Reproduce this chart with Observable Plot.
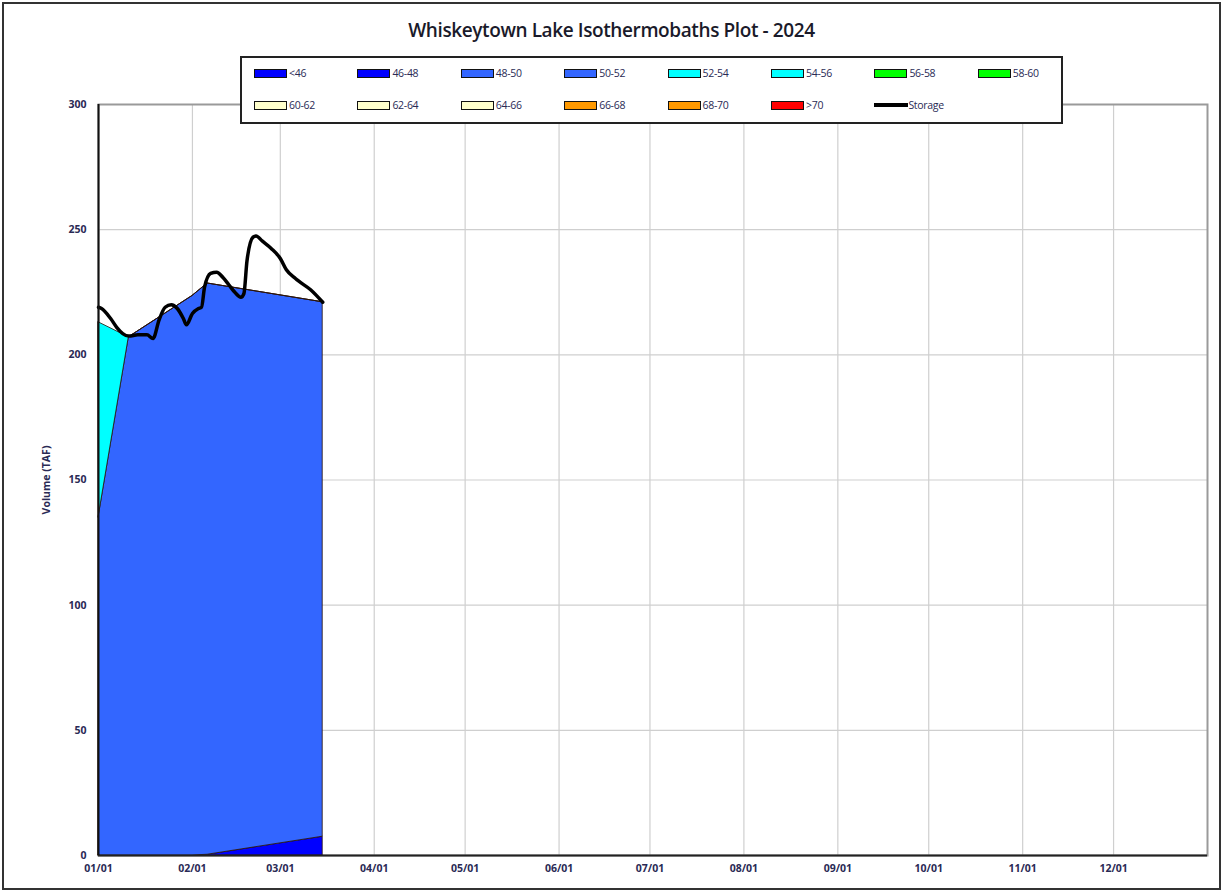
<!DOCTYPE html>
<html>
<head>
<meta charset="utf-8">
<script src="https://cdn.jsdelivr.net/npm/d3@7"></script>
<script src="https://cdn.jsdelivr.net/npm/@observablehq/plot@0.6"></script>
<style>
  html, body { margin: 0; padding: 0; background: #fff; }
  #wrap { position: relative; width: 1223px; height: 892px; overflow: hidden; font-family: "Open Sans", sans-serif; }
  #border { position: absolute; left: 2px; top: 2px; width: 1215px; height: 884px; border: 2px solid #333; pointer-events: none; }
  #title { position: absolute; left: 0; width: 1223px; top: 17px; text-align: center; font-size: 19px; font-weight: 600; color: #1a1a2a; letter-spacing: -0.4px; }
  #chart { position: absolute; left: 0; top: 0; }
  #legend { position: absolute; left: 240px; top: 56px; width: 819px; height: 64px; border: 2px solid #222; background: #fff; }
  .item { position: absolute; display: flex; align-items: center; font-size: 10.5px; color: #2a2a55; white-space: nowrap; letter-spacing: -0.3px; }
  .sw { width: 31px; height: 7px; border: 1.5px solid #111; margin-right: 2px; }
  .ln { width: 34px; height: 4px; background: #000; margin-right: 0px; }
</style>
</head>
<body>
<div id="wrap">
  <div id="chart"></div>
  <div id="title">Whiskeytown Lake Isothermobaths Plot - 2024</div>
  <div id="legend"></div>
  <div id="border"></div>
</div>
<script>
// Temperature bands (legend order) and their colours
const layerNames = ["<46","46-48","48-50","50-52","52-54","54-56","56-58","58-60","60-62","62-64","64-66","66-68","68-70",">70"];
const layerColors = ["#0000FF","#0000FF","#3366FF","#3366FF","#00FFFF","#00FFFF","#00FF00","#00FF00","#FFFFCC","#FFFFCC","#FFFFCC","#FF9900","#FF9900","#FF0000"];

// Volume (TAF) of each band at the sampled dates
const layerDates = ["2024-01-01","2024-01-11","2024-02-01","2024-02-06","2024-03-15"];
const band46_48 = [0, 0, 0, 0.3, 7.5];
const band48_50 = [135, 207, 223.5, 228.2, 213.5];
const band52_54 = [78, 0, 0, 0, 0];

// Storage line
const storageDates = ["2024-01-01","2024-01-02","2024-01-05","2024-01-07","2024-01-09","2024-01-11","2024-01-14","2024-01-17","2024-01-19","2024-01-21","2024-01-23","2024-01-25","2024-01-27","2024-01-29","2024-01-30","2024-02-01","2024-02-03","2024-02-04","2024-02-05","2024-02-07","2024-02-09","2024-02-11","2024-02-13","2024-02-15","2024-02-17","2024-02-18","2024-02-19","2024-02-21","2024-02-22","2024-02-24","2024-02-27","2024-03-01","2024-03-03","2024-03-06","2024-03-07","2024-03-11","2024-03-15"];
const storageValues = [219,218.5,214.5,211,208.5,207.5,208,208,206.5,214,219,220,218.5,214.5,212,216.5,218.5,219,227,232.5,233,231,228,225,223,224.5,237.5,247,247.5,245.5,242.5,238.5,234,230.5,229.5,226,221];

// Axis ticks
const yTicks = [0, 50, 100, 150, 200, 250, 300];
const monthTicks = ["2024-01-01","2024-02-01","2024-03-01","2024-04-01","2024-05-01","2024-06-01","2024-07-01","2024-08-01","2024-09-01","2024-10-01","2024-11-01","2024-12-01"];
const xDomain = ["2024-01-01","2025-01-01"];

const parse = d3.utcParse("%Y-%m-%d");
const bands = [["46-48", band46_48], ["48-50", band48_50], ["52-54", band52_54]];
const rows = [];
for (const [name, vals] of bands) {
  layerDates.forEach((d, i) => rows.push({date: parse(d), layer: name, value: vals[i]}));
}
const storage = storageDates.map((d, i) => ({date: parse(d), value: storageValues[i]}));
const monthDates = monthTicks.map(parse);

const chart = Plot.plot({
  width: 1223,
  height: 892,
  marginLeft: 98,
  marginRight: 16,
  marginTop: 104,
  marginBottom: 37,
  style: {fontFamily: "'Open Sans', sans-serif", fontSize: "10.5px", color: "#2a2a55", background: "transparent"},
  x: {type: "utc", domain: xDomain.map(parse)},
  y: {domain: [0, 300]},
  color: {domain: layerNames, range: layerColors},
  marks: [
    Plot.gridY(yTicks.filter(v => v > 0 && v < 300), {stroke: "#cfcfcf", strokeOpacity: 1, strokeWidth: 1.2}),
    Plot.gridX(monthDates.slice(1), {stroke: "#cfcfcf", strokeOpacity: 1, strokeWidth: 1.2}),
    Plot.frame({stroke: "#9a9a9a", strokeWidth: 2}),
    Plot.areaY(rows, {x: "date", y: "value", z: "layer", fill: "layer", order: layerNames, stroke: "#2a1208", strokeWidth: 0.8, fillOpacity: 1}),
    Plot.line(storage, {x: "date", y: "value", stroke: "#000", strokeWidth: 3.5, curve: "monotone-x"}),
    Plot.ruleY([0], {stroke: "#222", strokeWidth: 2}),
    Plot.ruleX([parse(xDomain[0])], {stroke: "#111", strokeWidth: 2}),
    Plot.axisY({ticks: yTicks, tickSize: 0, tickPadding: 12, label: "Volume (TAF)", labelAnchor: "center", labelArrow: "none", labelOffset: 56, fontWeight: "bold", fill: "#2a2a55"}),
    Plot.axisX({ticks: monthDates, tickSize: 0, tickPadding: 9, tickFormat: d3.utcFormat("%m/%d"), label: null, fontWeight: "bold", fill: "#2a2a55"})
  ]
});
document.getElementById("chart").appendChild(chart);

// Legend (two rows of 8 columns)
const legend = document.getElementById("legend");
const legendItems = layerNames.map((n, i) => ({name: n, color: layerColors[i]})).concat([{name: "Storage", line: true}]);
legendItems.forEach((it, i) => {
  const col = i % 8, row = Math.floor(i / 8);
  const div = document.createElement("div");
  div.className = "item";
  div.style.left = (12 + col * 103.4) + "px";
  div.style.top = (row === 0 ? 8 : 40) + "px";
  const sw = document.createElement("span");
  if (it.line) { sw.className = "ln"; } else { sw.className = "sw"; sw.style.background = it.color; }
  div.appendChild(sw);
  const tx = document.createElement("span");
  tx.textContent = it.name;
  div.appendChild(tx);
  legend.appendChild(div);
});
</script>
</body>
</html>
